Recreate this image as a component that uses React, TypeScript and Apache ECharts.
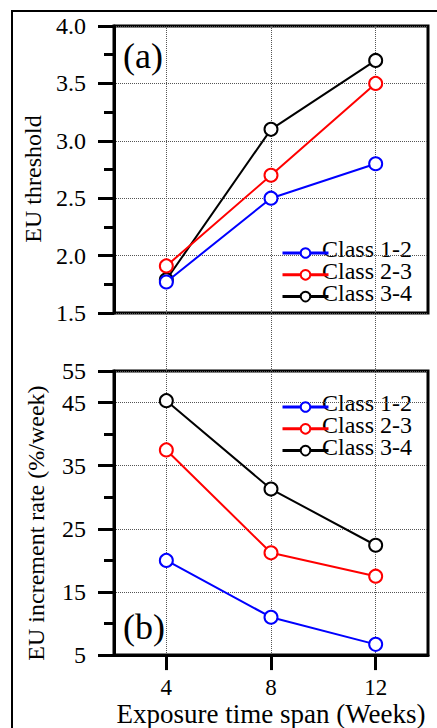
import React, { useEffect, useRef } from "react";
import * as echarts from "echarts";

const weeks = [4, 8, 12];
const seriesNames = ["Class 1-2", "Class 2-3", "Class 3-4"];
const seriesColors = ["#0000ff", "#ff0000", "#000000"];
const threshold12 = [1.77, 2.5, 2.8];
const threshold23 = [1.91, 2.7, 3.5];
const threshold34 = [1.79, 3.1, 3.7];
const rate12 = [20.0, 11.0, 6.7];
const rate23 = [37.5, 21.2, 17.5];
const rate34 = [45.3, 31.3, 22.4];
const thresholdTicks = [1.5, 4.0];
const rateTicks = [5, 50];
const rateTopLabel = "55";

const FONT = "Liberation Serif, Times New Roman, serif";

export default function App() {
  const ref = useRef<HTMLDivElement>(null);
  useEffect(() => {
    if (!ref.current) return;
    const chart = echarts.init(ref.current, null, { renderer: "svg" });
    const thresholds = [threshold12, threshold23, threshold34];
    const rates = [rate12, rate23, rate34];
    const zs = [5, 4, 3];

    const mkSeries = (vals: number[], i: number, xi: number, yi: number) => ({
      type: "line",
      name: seriesNames[i],
      xAxisIndex: xi,
      yAxisIndex: yi,
      data: weeks.map((w, k) => [w, vals[k]]),
      symbol: "emptyCircle",
      symbolSize: 13,
      z: zs[i],
      lineStyle: { color: seriesColors[i], width: 2 },
      itemStyle: { color: seriesColors[i], borderWidth: 3 },
    });

    const tickStyle = { color: "#000", width: 3 };
    const dotted = { type: "dotted", color: "#555", width: 1 };
    const labelStyle = { color: "#000", fontFamily: FONT, fontSize: 24 };

    const legendLeft = 276;
    const legendItemW = 46;
    const legendRow = 22;
    const legendTops = [242, 396];

    const legendBase = {
      data: seriesNames,
      orient: "vertical",
      left: legendLeft,
      itemWidth: legendItemW,
      itemHeight: 12,
      itemGap: legendRow - 12,
      lineStyle: { width: 3 },
      formatter: () => "",
      textStyle: { fontSize: 1 },
    };

    const legendLabels: any[] = [];
    legendTops.forEach((top) => {
      seriesNames.forEach((name, i) => {
        legendLabels.push({
          type: "text",
          left: legendLeft + legendItemW,
          top: top + 6 + i * legendRow - 11,
          style: { text: name, fontFamily: FONT, fontSize: 24, lineHeight: 22, fill: "#000" },
        });
      });
    });

    const option: any = {
      animation: false,
      backgroundColor: "#fff",
      textStyle: { fontFamily: FONT, color: "#000" },
      grid: [
        { left: 114, top: 26, width: 314, height: 287, show: true, borderColor: "#000", borderWidth: 3, backgroundColor: "transparent" },
        { left: 114, top: 371, width: 314, height: 286, show: true, borderColor: "#000", borderWidth: 3, backgroundColor: "transparent" },
        { left: 114, top: 26, width: 314, height: 631, show: false },
      ],
      xAxis: [
        {
          gridIndex: 0, type: "value", min: 2, max: 14,
          axisLine: { show: false }, axisTick: { show: false }, axisLabel: { show: false }, splitLine: { show: false },
        },
        {
          gridIndex: 1, type: "value", min: 2, max: 14,
          axisLine: { show: true, onZero: false, lineStyle: tickStyle },
          axisTick: { show: true, customValues: weeks, length: 15, inside: false, lineStyle: tickStyle },
          axisLabel: { customValues: weeks, margin: 21, ...labelStyle, fontSize: 23 },
          splitLine: { show: false },
          name: "Exposure time span (Weeks)",
          nameLocation: "middle",
          nameGap: 41,
          nameTextStyle: { color: "#000", fontFamily: FONT, fontSize: 27 },
        },
        {
          gridIndex: 2, type: "value", min: 2, max: 14,
          axisLine: { show: false },
          axisTick: { show: false, customValues: weeks },
          axisLabel: { show: false, customValues: weeks },
          splitLine: { show: true, lineStyle: dotted },
        },
      ],
      yAxis: [
        {
          gridIndex: 0, type: "value", position: "left",
          min: thresholdTicks[0], max: thresholdTicks[1], interval: 0.5,
          axisLine: { show: true, onZero: false, lineStyle: tickStyle },
          axisTick: { show: true, length: 16, lineStyle: tickStyle },
          minorTick: { show: true, splitNumber: 2, length: 10, lineStyle: tickStyle },
          axisLabel: { margin: 28, ...labelStyle, formatter: (v: number) => v.toFixed(1) },
          splitLine: { show: true, lineStyle: dotted },
          name: "EU threshold",
          nameLocation: "middle",
          nameGap: 66,
          nameTextStyle: { color: "#000", fontFamily: FONT, fontSize: 24, padding: [0, 19, 0, 0] },
        },
        {
          gridIndex: 1, type: "value", position: "left",
          min: rateTicks[0], max: rateTicks[1], interval: 10,
          axisLine: { show: true, onZero: false, lineStyle: tickStyle },
          axisTick: { show: true, length: 16, lineStyle: tickStyle },
          axisLabel: {
            margin: 28, ...labelStyle,
            formatter: (v: number) => (v === rateTicks[1] ? rateTopLabel : String(v)),
          },
          splitLine: { show: true, lineStyle: dotted },
          name: "EU increment rate (%/week)",
          nameLocation: "middle",
          nameGap: 66,
          nameTextStyle: { color: "#000", fontFamily: FONT, fontSize: 24, padding: [0, 20, 0, 0] },
        },
        {
          gridIndex: 1, type: "value", position: "left", offset: 0,
          min: rateTicks[0], max: rateTicks[1], interval: 5,
          axisLine: { show: false },
          axisTick: { show: true, length: 10, lineStyle: tickStyle },
          axisLabel: { show: false },
          splitLine: { show: false },
        },
        {
          gridIndex: 2, type: "value", min: 0, max: 1,
          axisLine: { show: false }, axisTick: { show: false }, axisLabel: { show: false }, splitLine: { show: false },
        },
      ],
      legend: [
        { ...legendBase, top: legendTops[0] },
        { ...legendBase, top: legendTops[1] },
      ],
      graphic: [
        { type: "rect", shape: { x: 12, y: 11, width: 600, height: 900 }, style: { fill: "none", stroke: "#000", lineWidth: 2 }, silent: true },
        { type: "text", left: 123, top: 38, style: { text: "(a)", fontFamily: FONT, fontSize: 36, fill: "#000" } },
        { type: "text", left: 123, top: 609, style: { text: "(b)", fontFamily: FONT, fontSize: 36, fill: "#000" } },
        ...legendLabels,
      ],
      series: [
        mkSeries(thresholds[0], 0, 0, 0),
        mkSeries(thresholds[1], 1, 0, 0),
        mkSeries(thresholds[2], 2, 0, 0),
        mkSeries(rates[0], 0, 1, 1),
        mkSeries(rates[1], 1, 1, 1),
        mkSeries(rates[2], 2, 1, 1),
      ],
    };
    chart.setOption(option);
    return () => chart.dispose();
  }, []);
  return (
    <div
      ref={ref}
      style={{ position: "fixed", left: 0, top: 0, width: 437, height: 728, background: "#fff" }}
    />
  );
}
